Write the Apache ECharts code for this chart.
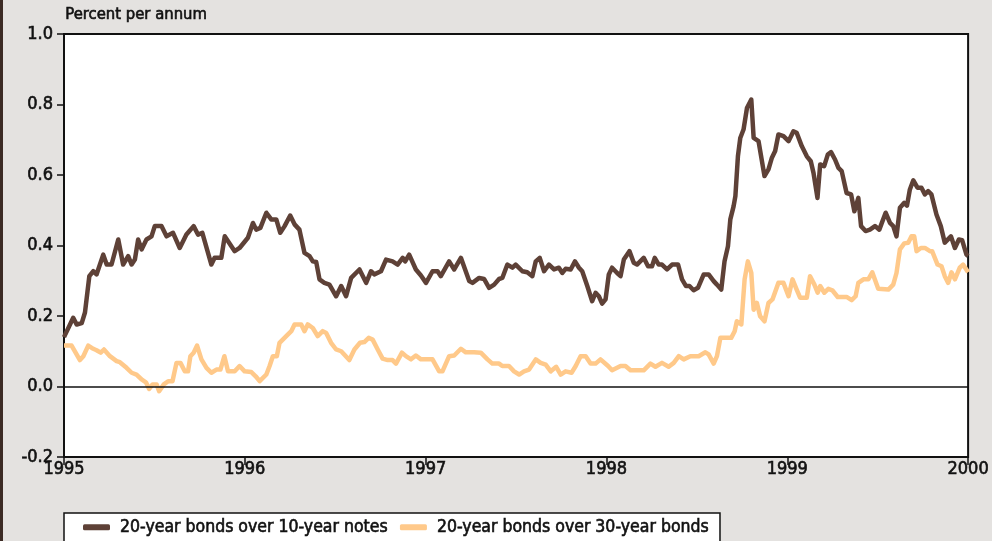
<!DOCTYPE html>
<html>
<head>
<meta charset="utf-8">
<script src="https://cdn.jsdelivr.net/npm/echarts@6/dist/echarts.min.js"></script>
<style>
  html, body { margin: 0; padding: 0; background: #e4e2e0; }
  #chart { width: 992px; height: 541px; }
</style>
</head>
<body>
<div id="chart"></div>
<script>
// Yield spreads, percent per annum; time in decimal years
const tenYearTime = [
  1995.000, 1995.051, 1995.070, 1995.098, 1995.116, 1995.140, 1995.162, 1995.180, 1995.217, 1995.236,
  1995.263, 1995.300, 1995.327, 1995.355, 1995.374, 1995.392, 1995.410, 1995.429, 1995.456, 1995.484,
  1995.502, 1995.539, 1995.567, 1995.603, 1995.640, 1995.677, 1995.717, 1995.741, 1995.765, 1995.815,
  1995.833, 1995.870, 1995.889, 1995.944, 1995.971, 1996.017, 1996.045, 1996.063, 1996.086, 1996.119,
  1996.146, 1996.174, 1996.196, 1996.220, 1996.251, 1996.275, 1996.302, 1996.330, 1996.358, 1996.376,
  1996.395, 1996.413, 1996.440, 1996.468, 1996.505, 1996.533, 1996.560, 1996.588, 1996.634, 1996.671,
  1996.698, 1996.716, 1996.753, 1996.781, 1996.817, 1996.845, 1996.873, 1996.887, 1996.909, 1996.946,
  1996.974, 1997.002, 1997.038, 1997.066, 1997.084, 1997.130, 1997.158, 1997.195, 1997.241, 1997.259,
  1997.296, 1997.323, 1997.351, 1997.379, 1997.406, 1997.424, 1997.452, 1997.480, 1997.498, 1997.535,
  1997.562, 1997.590, 1997.609, 1997.631, 1997.655, 1997.682, 1997.710, 1997.737, 1997.756, 1997.774,
  1997.802, 1997.826, 1997.848, 1997.866, 1997.894, 1997.921, 1997.940, 1997.958, 1997.976, 1997.995,
  1998.013, 1998.031, 1998.059, 1998.078, 1998.096, 1998.127, 1998.151, 1998.169, 1998.206, 1998.230,
  1998.252, 1998.267, 1998.289, 1998.307, 1998.335, 1998.363, 1998.396, 1998.418, 1998.440, 1998.459,
  1998.482, 1998.506, 1998.538, 1998.565, 1998.593, 1998.611, 1998.635, 1998.653, 1998.672, 1998.685,
  1998.703, 1998.713, 1998.727, 1998.740, 1998.758, 1998.777, 1998.801, 1998.814, 1998.841, 1998.874,
  1998.896, 1998.915, 1998.933, 1998.951, 1998.979, 1999.007, 1999.034, 1999.052, 1999.080, 1999.108,
  1999.130, 1999.145, 1999.167, 1999.182, 1999.204, 1999.224, 1999.242, 1999.264, 1999.283, 1999.301,
  1999.328, 1999.353, 1999.371, 1999.393, 1999.408, 1999.433, 1999.457, 1999.485, 1999.509, 1999.544,
  1999.568, 1999.586, 1999.604, 1999.623, 1999.647, 1999.662, 1999.678, 1999.697, 1999.720, 1999.742,
  1999.761, 1999.779, 1999.797, 1999.825, 1999.849, 1999.871, 1999.905, 1999.927, 1999.949, 1999.967,
  1999.991, 2000.000
];
const tenYearSpread = [
  0.140, 0.195, 0.176, 0.180, 0.210, 0.313, 0.327, 0.318, 0.374, 0.346,
  0.346, 0.417, 0.346, 0.370, 0.346, 0.360, 0.417, 0.389, 0.417, 0.426,
  0.455, 0.455, 0.426, 0.436, 0.393, 0.431, 0.455, 0.431, 0.436, 0.346,
  0.365, 0.365, 0.426, 0.384, 0.393, 0.422, 0.464, 0.445, 0.450, 0.493,
  0.474, 0.474, 0.436, 0.455, 0.485, 0.460, 0.445, 0.379, 0.370, 0.355,
  0.353, 0.304, 0.294, 0.289, 0.256, 0.285, 0.256, 0.308, 0.332, 0.294,
  0.327, 0.318, 0.327, 0.360, 0.355, 0.346, 0.365, 0.355, 0.374, 0.332,
  0.315, 0.294, 0.327, 0.327, 0.313, 0.355, 0.332, 0.365, 0.299, 0.294,
  0.308, 0.305, 0.280, 0.289, 0.305, 0.308, 0.346, 0.337, 0.346, 0.327,
  0.324, 0.313, 0.355, 0.365, 0.327, 0.346, 0.332, 0.337, 0.322, 0.334,
  0.332, 0.355, 0.337, 0.327, 0.285, 0.242, 0.266, 0.256, 0.235, 0.247,
  0.318, 0.337, 0.322, 0.313, 0.360, 0.384, 0.351, 0.346, 0.365, 0.341,
  0.341, 0.365, 0.346, 0.346, 0.332, 0.346, 0.346, 0.304, 0.285, 0.285,
  0.273, 0.280, 0.318, 0.318, 0.299, 0.289, 0.275, 0.355, 0.398, 0.474,
  0.511, 0.540, 0.653, 0.705, 0.729, 0.790, 0.814, 0.705, 0.696, 0.597,
  0.616, 0.649, 0.668, 0.715, 0.710, 0.696, 0.724, 0.720, 0.682, 0.653,
  0.639, 0.606, 0.535, 0.630, 0.625, 0.658, 0.665, 0.644, 0.620, 0.611,
  0.549, 0.545, 0.497, 0.535, 0.455, 0.441, 0.445, 0.455, 0.445, 0.493,
  0.464, 0.455, 0.426, 0.507, 0.521, 0.513, 0.559, 0.585, 0.564, 0.564,
  0.545, 0.554, 0.545, 0.488, 0.455, 0.408, 0.426, 0.393, 0.417, 0.415,
  0.374, 0.370
];

const thirtyYearTime = [
  1995.000, 1995.042, 1995.088, 1995.107, 1995.134, 1995.162, 1995.180, 1995.203, 1995.221, 1995.254,
  1995.291, 1995.309, 1995.346, 1995.374, 1995.401, 1995.429, 1995.453, 1995.471, 1995.490, 1995.512,
  1995.526, 1995.552, 1995.576, 1995.600, 1995.622, 1995.644, 1995.668, 1995.686, 1995.699, 1995.717,
  1995.736, 1995.760, 1995.788, 1995.815, 1995.843, 1995.865, 1995.887, 1995.907, 1995.944, 1995.971,
  1995.999, 1996.036, 1996.060, 1996.082, 1996.119, 1996.137, 1996.155, 1996.177, 1996.192, 1996.229,
  1996.257, 1996.275, 1996.312, 1996.330, 1996.348, 1996.376, 1996.403, 1996.431, 1996.450, 1996.477,
  1996.505, 1996.533, 1996.578, 1996.606, 1996.637, 1996.661, 1996.685, 1996.707, 1996.735, 1996.762,
  1996.790, 1996.817, 1996.836, 1996.869, 1996.891, 1996.919, 1996.946, 1996.974, 1997.011, 1997.038,
  1997.075, 1997.093, 1997.130, 1997.158, 1997.195, 1997.222, 1997.268, 1997.305, 1997.342, 1997.369,
  1997.406, 1997.424, 1997.461, 1997.489, 1997.517, 1997.544, 1997.572, 1997.609, 1997.636, 1997.664,
  1997.692, 1997.722, 1997.747, 1997.774, 1997.807, 1997.830, 1997.857, 1997.885, 1997.912, 1997.940,
  1997.967, 1998.009, 1998.031, 1998.078, 1998.105, 1998.133, 1998.206, 1998.243, 1998.271, 1998.307,
  1998.344, 1998.372, 1998.400, 1998.427, 1998.464, 1998.510, 1998.547, 1998.565, 1998.593, 1998.611,
  1998.630, 1998.657, 1998.690, 1998.709, 1998.721, 1998.746, 1998.764, 1998.782, 1998.801, 1998.814,
  1998.832, 1998.850, 1998.874, 1998.896, 1998.918, 1998.951, 1998.979, 1999.007, 1999.029, 1999.052,
  1999.071, 1999.108, 1999.126, 1999.150, 1999.168, 1999.182, 1999.205, 1999.227, 1999.249, 1999.279,
  1999.328, 1999.356, 1999.378, 1999.393, 1999.421, 1999.448, 1999.470, 1999.503, 1999.559, 1999.586,
  1999.604, 1999.623, 1999.647, 1999.669, 1999.687, 1999.702, 1999.715, 1999.739, 1999.761, 1999.789,
  1999.801, 1999.831, 1999.853, 1999.871, 1999.890, 1999.908, 1999.927, 1999.954, 1999.972, 2000.000
];
const thirtyYearSpread = [
  0.116, 0.116, 0.075, 0.086, 0.116, 0.107, 0.103, 0.096, 0.105, 0.086,
  0.072, 0.069, 0.053, 0.039, 0.034, 0.020, 0.012, -0.007, 0.006, 0.006,
  -0.013, 0.006, 0.015, 0.015, 0.067, 0.067, 0.043, 0.043, 0.086, 0.096,
  0.116, 0.077, 0.053, 0.039, 0.048, 0.048, 0.086, 0.043, 0.043, 0.058,
  0.043, 0.041, 0.029, 0.015, 0.034, 0.058, 0.086, 0.086, 0.124, 0.143,
  0.157, 0.176, 0.176, 0.157, 0.176, 0.166, 0.143, 0.157, 0.152, 0.124,
  0.105, 0.100, 0.075, 0.105, 0.124, 0.126, 0.138, 0.133, 0.105, 0.079,
  0.075, 0.075, 0.065, 0.096, 0.086, 0.077, 0.088, 0.077, 0.077, 0.077,
  0.043, 0.043, 0.086, 0.088, 0.107, 0.097, 0.097, 0.096, 0.077, 0.065,
  0.065, 0.058, 0.058, 0.043, 0.034, 0.043, 0.048, 0.077, 0.067, 0.062,
  0.043, 0.056, 0.034, 0.043, 0.039, 0.058, 0.086, 0.086, 0.065, 0.065,
  0.077, 0.058, 0.046, 0.058, 0.058, 0.046, 0.046, 0.065, 0.056, 0.067,
  0.056, 0.067, 0.086, 0.077, 0.086, 0.086, 0.097, 0.091, 0.065, 0.086,
  0.138, 0.138, 0.138, 0.157, 0.185, 0.176, 0.304, 0.355, 0.322, 0.218,
  0.237, 0.199, 0.185, 0.237, 0.247, 0.294, 0.294, 0.256, 0.304, 0.275,
  0.252, 0.252, 0.313, 0.289, 0.266, 0.285, 0.266, 0.277, 0.273, 0.254,
  0.254, 0.245, 0.256, 0.294, 0.304, 0.304, 0.324, 0.277, 0.275, 0.289,
  0.322, 0.389, 0.406, 0.408, 0.426, 0.426, 0.384, 0.393, 0.393, 0.384,
  0.384, 0.346, 0.341, 0.313, 0.294, 0.324, 0.304, 0.337, 0.346, 0.324
];

const yearTicks = [1995, 1996, 1997, 1998, 1999, 2000];
const seriesNames = ['20-year bonds over 10-year notes', '20-year bonds over 30-year bonds'];
const unitLabel = 'Percent per annum';

const pair = (t, v) => t.map((x, i) => [x, v[i]]);

const FONT = '"DejaVu Sans Condensed", "Liberation Sans", Arial, sans-serif';
const INK = '#111';
const BROWN = '#5e4137';
const PEACH = '#ffc98a';
// a hairline outline in the text colour gives the labels a medium weight
const heavy = { textBorderColor: INK, textBorderWidth: 0.6 };

const chart = echarts.init(document.getElementById('chart'), null, { renderer: 'canvas' });

chart.setOption({
  backgroundColor: '#e4e2e0',
  animation: false,
  textStyle: { fontFamily: FONT, color: INK },
  graphic: [
    { type: 'rect', left: 0, top: 0, shape: { width: 3, height: 541 }, style: { fill: '#3b2a24' } },
    { type: 'text', left: 65, top: 6,
      style: { text: unitLabel, font: '16.5px ' + FONT, fill: INK, stroke: INK, lineWidth: 0.6 } }
  ],
  grid: {
    left: 64, right: 22, top: 34, bottom: 84,
    show: true, backgroundColor: '#ffffff', borderColor: INK, borderWidth: 2
  },
  legend: {
    data: seriesNames,
    left: 64, top: 513,
    orient: 'horizontal',
    backgroundColor: '#ffffff',
    borderColor: INK, borderWidth: 1.5, borderRadius: 0,
    padding: [5, 11, 12, 19],
    itemGap: 12,
    itemWidth: 27, itemHeight: 6,
    icon: 'roundRect',
    textStyle: Object.assign({ fontFamily: FONT, fontSize: 17.5, color: INK, padding: [0, 0, 0, 5] }, heavy)
  },
  xAxis: {
    type: 'value',
    min: 1995, max: 2000, interval: 1,
    axisLine: { show: true, onZero: false, lineStyle: { color: INK, width: 2 } },
    axisTick: { show: true, length: 8, lineStyle: { color: INK, width: 1.5 } },
    axisLabel: Object.assign({
      fontFamily: FONT, fontSize: 18, color: INK, margin: 3,
      formatter: v => String(v)
    }, heavy),
    splitLine: { show: false }
  },
  yAxis: {
    type: 'value',
    min: -0.2, max: 1.0, interval: 0.2,
    axisLine: { show: true, onZero: false, lineStyle: { color: INK, width: 2 } },
    axisTick: { show: true, length: 7, lineStyle: { color: INK, width: 1.5 } },
    axisLabel: Object.assign({
      fontFamily: FONT, fontSize: 18, color: INK, margin: 11,
      formatter: v => v.toFixed(1)
    }, heavy),
    splitLine: { show: false }
  },
  series: [
    {
      name: 'zero',
      type: 'line',
      data: [],
      z: 1,
      silent: true,
      markLine: {
        silent: true, symbol: 'none', label: { show: false },
        lineStyle: { color: INK, width: 1.5, type: 'solid' },
        data: [{ yAxis: 0 }]
      }
    },
    {
      name: seriesNames[0],
      type: 'line',
      data: pair(tenYearTime, tenYearSpread),
      showSymbol: false,
      z: 3,
      lineStyle: { color: BROWN, width: 4.5, join: 'round' },
      itemStyle: { color: BROWN }
    },
    {
      name: seriesNames[1],
      type: 'line',
      data: pair(thirtyYearTime, thirtyYearSpread),
      showSymbol: false,
      z: 2,
      lineStyle: { color: PEACH, width: 4.5, join: 'round' },
      itemStyle: { color: PEACH }
    }
  ]
});
</script>
</body>
</html>
